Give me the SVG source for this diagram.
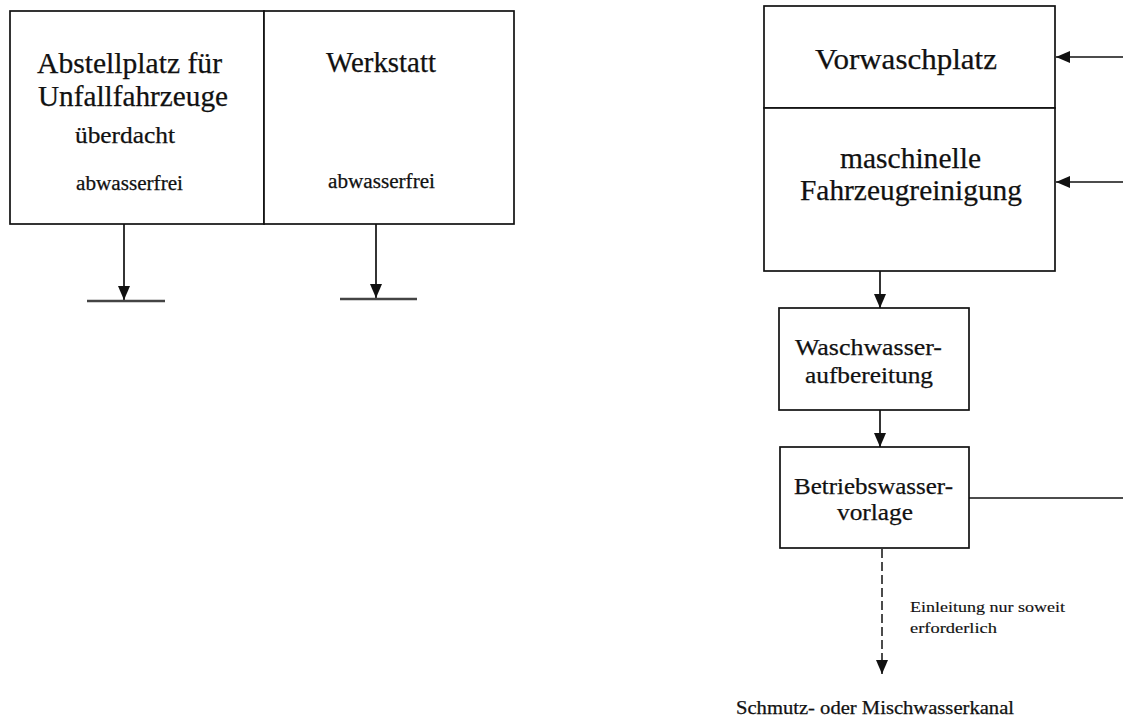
<svg xmlns="http://www.w3.org/2000/svg" width="1123" height="720" viewBox="0 0 1123 720">
  <style>
    .box { fill: #fff; stroke: #111; stroke-width: 1.7; }
    .line { fill: none; stroke: #111; stroke-width: 1.7; }
    .dash { fill: none; stroke: #111; stroke-width: 1.5; stroke-dasharray: 9 4; }
    .ground { fill: none; stroke: #444; stroke-width: 2.4; }
    text { font-family: "Liberation Serif", "Times New Roman", serif; fill: #111; stroke: #111; stroke-width: 0.25; }
    .big { font-size: 29px; }
    .mid { font-size: 24px; }
    .sm { font-size: 20px; }
    .note { font-size: 15px; stroke-width: 0.15; }
  </style>
  <defs>
    <marker id="arrow" markerUnits="userSpaceOnUse" markerWidth="16" markerHeight="16" viewBox="0 0 16 16" refX="14" refY="8" orient="auto">
      <path d="M0,2 L14,8 L0,14 Z" fill="#111"/>
    </marker>
  </defs>

  <rect width="1123" height="720" fill="#fff"/>

  <!-- left block: parking area and workshop -->
  <g id="abstellplatz">
    <rect class="box" x="10" y="11" width="254" height="213"/>
    <text class="big" x="37" y="73" textLength="185" lengthAdjust="spacingAndGlyphs">Abstellplatz für</text>
    <text class="big" x="38" y="106" textLength="190" lengthAdjust="spacingAndGlyphs">Unfallfahrzeuge</text>
    <text class="mid" x="75" y="143" textLength="100" lengthAdjust="spacingAndGlyphs">überdacht</text>
    <text class="sm" x="76" y="190" textLength="107" lengthAdjust="spacingAndGlyphs">abwasserfrei</text>
  </g>
  <g id="werkstatt">
    <rect class="box" x="264" y="11" width="250" height="213"/>
    <text class="big" x="326" y="72" textLength="110" lengthAdjust="spacingAndGlyphs">Werkstatt</text>
    <text class="sm" x="328" y="188" textLength="107" lengthAdjust="spacingAndGlyphs">abwasserfrei</text>
  </g>

  <!-- right block: washing chain -->
  <g id="vorwaschplatz">
    <rect class="box" x="764" y="6" width="291" height="102"/>
    <text class="big" x="815" y="69" textLength="182" lengthAdjust="spacingAndGlyphs">Vorwaschplatz</text>
  </g>
  <g id="fahrzeugreinigung">
    <rect class="box" x="764" y="108" width="291" height="163"/>
    <text class="big" x="840" y="168" textLength="141" lengthAdjust="spacingAndGlyphs">maschinelle</text>
    <text class="big" x="800" y="200" textLength="222" lengthAdjust="spacingAndGlyphs">Fahrzeugreinigung</text>
  </g>
  <g id="waschwasseraufbereitung">
    <rect class="box" x="779" y="308" width="190" height="102"/>
    <text class="mid" x="795" y="355" textLength="147" lengthAdjust="spacingAndGlyphs">Waschwasser-</text>
    <text class="mid" x="805" y="383" textLength="128" lengthAdjust="spacingAndGlyphs">aufbereitung</text>
  </g>
  <g id="betriebswasservorlage">
    <rect class="box" x="780" y="447" width="189" height="101"/>
    <text class="mid" x="794" y="494" textLength="159" lengthAdjust="spacingAndGlyphs">Betriebswasser-</text>
    <text class="mid" x="837" y="520" textLength="76" lengthAdjust="spacingAndGlyphs">vorlage</text>
  </g>
  <g id="kanal">
    <text class="note" x="910" y="612" textLength="155" lengthAdjust="spacingAndGlyphs">Einleitung nur soweit</text>
    <text class="note" x="910" y="633" textLength="87" lengthAdjust="spacingAndGlyphs">erforderlich</text>
    <text font-size="18" x="736" y="714" textLength="278" lengthAdjust="spacingAndGlyphs">Schmutz- oder Mischwasserkanal</text>
  </g>

  <!-- connectors -->
  <g id="connectors">
    <line class="line" x1="124" y1="224" x2="124" y2="300" marker-end="url(#arrow)"/>
    <line class="ground" x1="87" y1="301" x2="165" y2="301"/>
    <line class="line" x1="376" y1="224" x2="376" y2="298" marker-end="url(#arrow)"/>
    <line class="ground" x1="340" y1="299" x2="417" y2="299"/>

    <line class="line" x1="1123" y1="57" x2="1056" y2="57" marker-end="url(#arrow)"/>
    <line class="line" x1="1123" y1="182" x2="1056" y2="182" marker-end="url(#arrow)"/>
    <line class="line" x1="880" y1="271" x2="880" y2="308" marker-end="url(#arrow)"/>
    <line class="line" x1="880" y1="410" x2="880" y2="447" marker-end="url(#arrow)"/>
    <line class="line" x1="969" y1="498" x2="1123" y2="498"/>
    <line class="dash" x1="882" y1="549" x2="882" y2="674" marker-end="url(#arrow)"/>
  </g>
</svg>
